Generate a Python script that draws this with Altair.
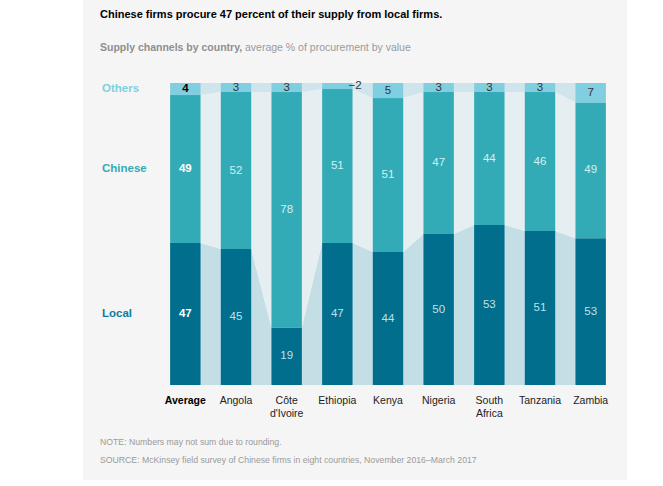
import altair as alt
import pandas as pd

# ---- data ----
countries = ["Average", "Angola", "Côte d'Ivoire", "Ethiopia", "Kenya",
             "Nigeria", "South Africa", "Tanzania", "Zambia"]
tick_labels = ["Average", "Angola", "Côte\nd'Ivoire", "Ethiopia", "Kenya",
               "Nigeria", "South\nAfrica", "Tanzania", "Zambia"]
local = [47, 45, 19, 47, 44, 50, 53, 51, 53]
chinese = [49, 52, 78, 51, 51, 47, 44, 46, 49]
others = [4, 3, 3, 2, 5, 3, 3, 3, 7]
segments = ["Local", "Chinese", "Others"]

# ---- style ----
FONT = "Liberation Sans"
HALF = 0.3  # half bar width in category units
seg_colors = {"Local": "#006e8c", "Chinese": "#33abb7", "Others": "#80cfe0"}
link_colors = {"Local": "#c4dee5", "Chinese": "#e5eff1", "Others": "#d0e5eb"}
label_colors = {"Local": "#bfe0ea", "Chinese": "#d4eef2", "Others": "#333333"}
avg_label_colors = {"Local": "#ffffff", "Chinese": "#ffffff", "Others": "#000000"}
legend_colors = {"Local": "#0a7ea4", "Chinese": "#33abb7", "Others": "#80cfe0"}

rows, area_rows = [], []
for i, c in enumerate(countries):
    vals = [local[i], chinese[i], others[i]]
    tot = sum(vals)
    cum = 0
    for s, v in zip(segments, vals):
        y0 = cum / tot
        cum += v
        y1 = cum / tot
        rows.append(dict(idx=i, country=c, seg=s, value=v, y0=y0, y1=y1,
                         ymid=(y0 + y1) / 2, xl=i - HALF, xr=i + HALF,
                         fill=seg_colors[s],
                         tcolor=(avg_label_colors if i == 0 else label_colors)[s],
                         label=str(v), avg=(i == 0),
                         outside=(s == "Others" and v <= 2)))
        for xx in (i - HALF, i + HALF):
            area_rows.append(dict(x=xx, seg=s, y0=y0, y1=y1, fill=link_colors[s]))
bars = pd.DataFrame(rows)
areas = pd.DataFrame(area_rows)
ticks = pd.DataFrame({"idx": list(range(len(countries))), "name": tick_labels,
                      "avg": [i == 0 for i in range(len(countries))]})

xscale = alt.Scale(domain=[-0.5, len(countries) - 0.5], nice=False, zero=False)
yscale = alt.Scale(domain=[0, 1], nice=False)

one = pd.DataFrame({"a": [0]})

panel = alt.Chart(one).mark_rect(color="#f5f5f5").encode(
    x=alt.value(-77), x2=alt.value(467), y=alt.value(-83), y2=alt.value(397))

links = alt.Chart(areas).mark_area(interpolate="linear").encode(
    x=alt.X("x:Q", scale=xscale, axis=None),
    y=alt.Y("y1:Q", scale=yscale, axis=None, stack=None),
    y2="y0:Q",
    detail="seg:N",
    color=alt.Color("fill:N", scale=None),
)

bar_layer = alt.Chart(bars).mark_rect().encode(
    x=alt.X("xl:Q", scale=xscale, axis=None),
    x2="xr:Q",
    y=alt.Y("y0:Q", scale=yscale, axis=None),
    y2="y1:Q",
    color=alt.Color("fill:N", scale=None),
)

def vlabels(filt, weight):
    return alt.Chart(bars).transform_filter(filt).mark_text(
        font=FONT, fontSize=11.5, fontWeight=weight, baseline="middle", align="center"
    ).encode(
        x=alt.X("idx:Q", scale=xscale, axis=None),
        y=alt.Y("ymid:Q", scale=yscale, axis=None),
        text="label:N",
        color=alt.Color("tcolor:N", scale=None),
    )

lab_norm = vlabels("!datum.avg && !datum.outside", "normal")
lab_avg = vlabels("datum.avg", "bold")
lab_out = alt.Chart(bars).transform_filter("datum.outside").transform_calculate(
    txt="'−' + datum.label").mark_text(
    font=FONT, fontSize=11.5, align="left", baseline="middle", dx=-4, dy=0, color="#333333"
).encode(
    x=alt.X("xr:Q", scale=xscale, axis=None),
    y=alt.Y("ymid:Q", scale=yscale, axis=None),
    text="txt:N",
)

def xlabels(filt, weight, color):
    return alt.Chart(ticks).transform_filter(filt).mark_text(
        font=FONT, fontSize=10.5, fontWeight=weight, color=color, align="center",
        baseline="top", lineBreak="\n", lineHeight=13
    ).encode(
        x=alt.X("idx:Q", scale=xscale, axis=None),
        y=alt.value(313),
        text="name:N",
    )

xl_norm = xlabels("!datum.avg", "normal", "#222222")
xl_avg = xlabels("datum.avg", "bold", "#000000")

avg_rows = bars[bars.idx == 0].copy()
avg_rows["lcolor"] = avg_rows.seg.map(legend_colors)
legend_txt = alt.Chart(avg_rows).mark_text(
    font=FONT, fontSize=11.5, fontWeight="bold", align="left", baseline="middle"
).encode(
    x=alt.value(-58),
    y=alt.Y("ymid:Q", scale=yscale, axis=None),
    text="seg:N",
    color=alt.Color("lcolor:N", scale=None),
)

def txt(s, x, y, size, color, weight="normal"):
    return alt.Chart(one).mark_text(
        text=s, font=FONT, fontSize=size, fontWeight=weight, color=color,
        align="left", baseline="middle"
    ).encode(x=alt.value(x), y=alt.value(y))

title = txt("Chinese firms procure 47 percent of their supply from local firms.",
            -60, -68, 11, "#000000", "bold")
sub1 = txt("Supply channels by country,", -60, -35, 10.5, "#8f8f8f", "bold")
sub2 = txt("average % of procurement by value", 85, -35, 10.5, "#9a9a9a")
note1 = txt("NOTE: Numbers may not sum due to rounding.", -60, 359, 8.7, "#9a9a9a")
note2 = txt("SOURCE: McKinsey field survey of Chinese firms in eight countries, November 2016–March 2017",
            -60, 377, 8.7, "#9a9a9a")

chart = alt.layer(
    panel, links, bar_layer, lab_norm, lab_avg, lab_out, xl_norm, xl_avg, legend_txt,
    title, sub1, sub2, note1, note2
).properties(
    width=456, height=302,
    padding={"left": 160, "top": 83, "right": 47, "bottom": 101},
    autosize=alt.AutoSizeParams(type="none"),
    background="#ffffff",
).configure_view(stroke=None)

chart.save("out.html", embed_options={"renderer": "svg", "actions": False})
